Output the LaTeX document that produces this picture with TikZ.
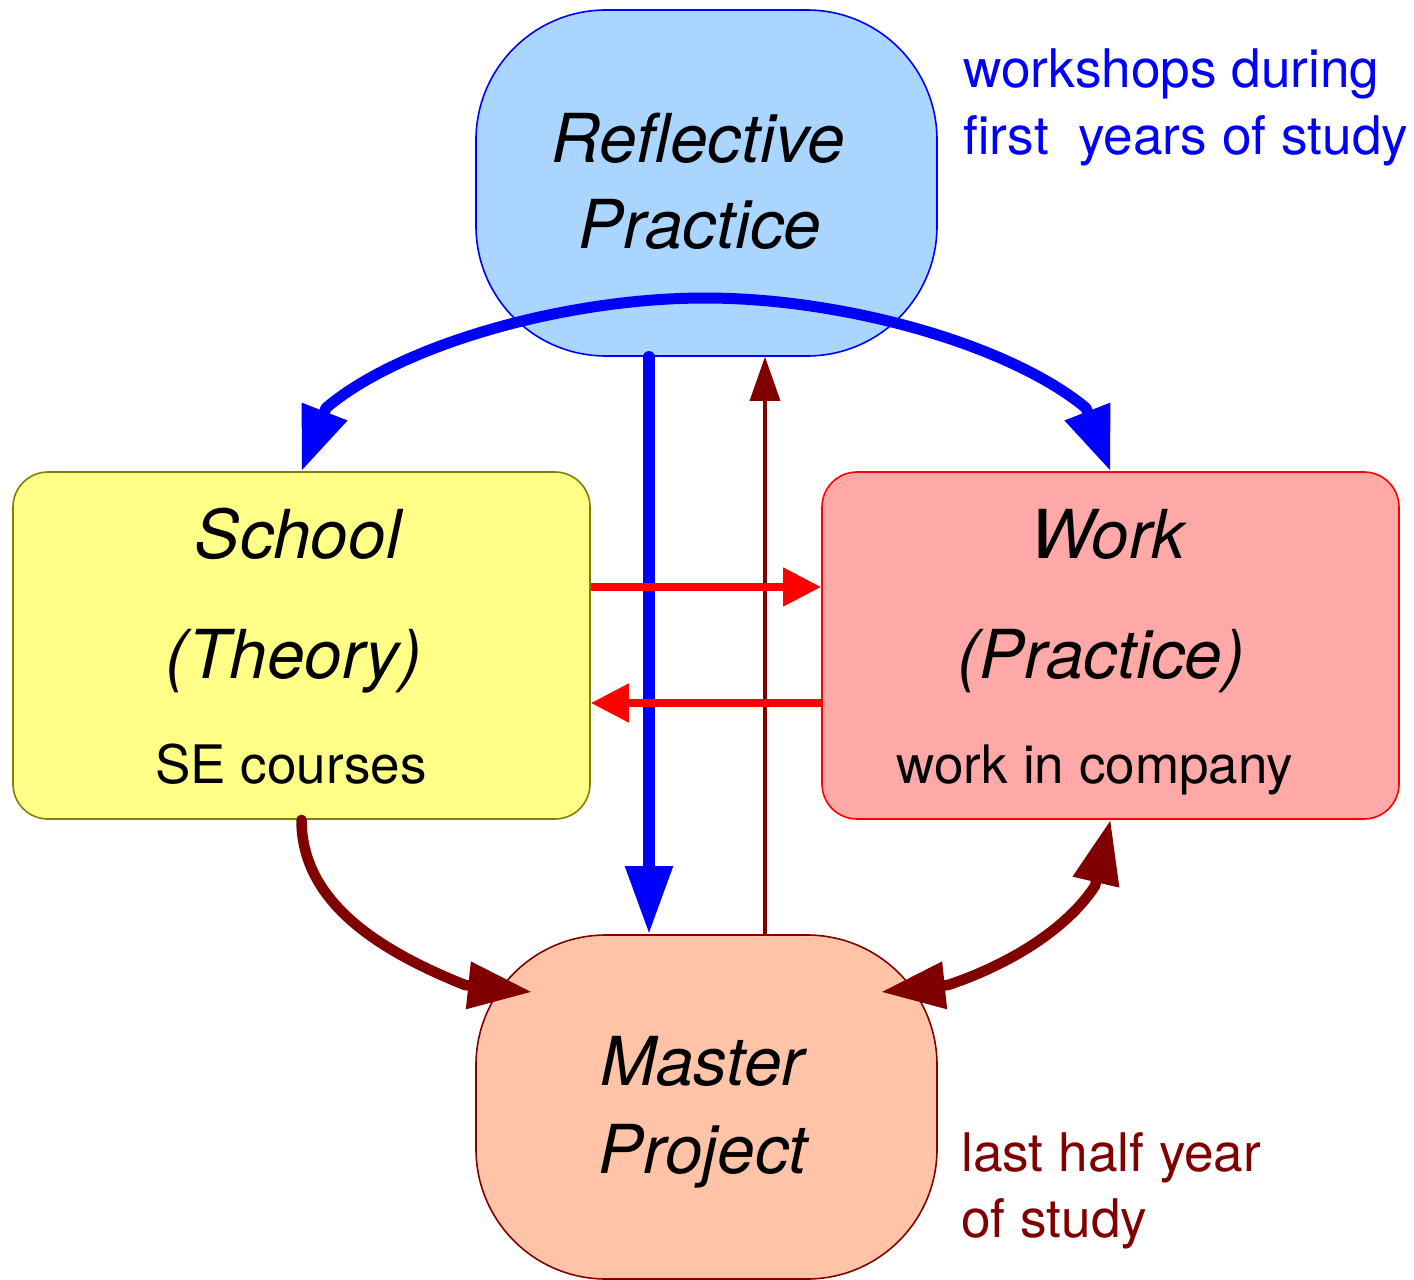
\documentclass[tikz,border=0pt]{standalone}
\usepackage{fontspec}
\setmainfont{TeX Gyre Heros}
\usetikzlibrary{arrows.meta}
\definecolor{rpfill}{HTML}{AAD5FF}
\definecolor{schoolfill}{HTML}{FFFF88}
\definecolor{schoolline}{HTML}{808000}
\definecolor{workfill}{HTML}{FFA8A8}
\definecolor{mpfill}{HTML}{FFC4A8}
\definecolor{darkred}{HTML}{800000}
\tikzset{
  bigbox/.style={draw, line width=1.6pt, inner sep=0pt, minimum width=461pt, rounded corners=130pt},
  sidebox/.style={draw, line width=1.6pt, inner sep=0pt, minimum width=577pt, minimum height=347pt, rounded corners=35pt},
  bigtext/.style={font=\fontsize{67.5}{80}\selectfont\itshape, anchor=base, inner sep=0pt},
  smalltext/.style={font=\fontsize{53}{63}\selectfont, anchor=base, inner sep=0pt},
  notetext/.style={font=\fontsize{53.2}{63}\selectfont, anchor=base west, inner sep=0pt},
}
\begin{document}
\begin{tikzpicture}[x=1pt,y=-1pt]
\useasboundingbox (0,0) rectangle (1414,1280);
% boxes
\node[bigbox, draw=blue, fill=rpfill, minimum height=346pt] (rp) at (706.5,183) {};
\node[sidebox, draw=schoolline, fill=schoolfill] (school) at (301.5,645.5) {};
\node[sidebox, draw=red, fill=workfill] (work) at (1110.5,645.5) {};
\node[bigbox, draw=darkred, fill=mpfill, minimum height=344pt] (mp) at (706.5,1107) {};
% texts
\node[bigtext] (rp1) at (698,162) {Reflective};
\node[bigtext] (rp2) at (700,248) {Practice};
\node[bigtext] (sc1) at (298,558) {School};
\node[bigtext] (sc2) at (294,678) {(Theory)};
\node[smalltext] (sc3) at (291,783) {SE courses};
\node[bigtext] (wk1) at (1108,558) {Work};
\node[bigtext] (wk2) at (1101,678) {(Practice)};
\node[smalltext] (wk3) at (1095,783) {work in company};
\node[bigtext] (mp1) at (702,1085) {Master};
\node[bigtext] (mp2) at (703,1173) {Project};
\node[notetext, text=blue] (n1) at (963,87) {workshops during};
\node[notetext, text=blue] (n2) at (963,154) {first\ \ years of study};
\node[notetext, text=darkred] (n3) at (961,1171) {last half year};
\node[notetext, text=darkred] (n4) at (961,1237) {of study};
% helper coordinates
\coordinate (bl) at (326,408);
\coordinate (peak) at (705,298);
\coordinate (br) at (1086,408);
\coordinate (dl) at (465,985);
\coordinate (tipml) at (532,992);
\coordinate (tipmr) at (881,992);
\coordinate (dr1) at (948,985);
\coordinate (dr2) at (1095,886);
% big blue curve
\draw[blue, line width=11pt, line join=round, {Triangle[length=64pt,width=46pt]}-{Triangle[length=64pt,width=46pt]}]
  (school.north) -- (bl) .. controls (400,345) and (565,298) .. (peak)
  .. controls (845,298) and (1010,345) .. (br) -- (work.north);
% blue vertical
\draw[blue, line width=11.5pt, line cap=round, -{Triangle[length=68pt,width=45pt]}]
  ([xshift=-57.5pt]rp.south) -- ([xshift=-57.5pt]mp.north);
% dark red thin
\draw[darkred, line width=3.5pt, -{Triangle[length=44pt,width=30pt]}]
  ([xshift=58.5pt]mp.north) -- ([xshift=58.5pt]rp.south);
% red horizontals
\draw[red, line width=7.5pt, -{Triangle[length=38pt,width=37pt]}]
  ([yshift=58.5pt]school.east) -- ([yshift=58.5pt]work.west);
\draw[red, line width=7.5pt, -{Triangle[length=38pt,width=37pt]}]
  ([yshift=-57.5pt]work.west) -- ([yshift=-57.5pt]school.east);
% dark red curves
\draw[darkred, line width=10.5pt, line cap=round, line join=round, -{Triangle[length=64pt,width=45pt]}]
  (school.south) .. controls (301.5,900) and (375,949) .. (dl) -- (tipml);
\draw[darkred, line width=10.5pt, line join=round, {Triangle[length=64pt,width=45pt]}-{Triangle[length=64pt,width=45pt]}]
  (tipmr) -- (dr1) .. controls (1008,965) and (1066,930) .. (dr2) -- (work.south);
\end{tikzpicture}
\end{document}
